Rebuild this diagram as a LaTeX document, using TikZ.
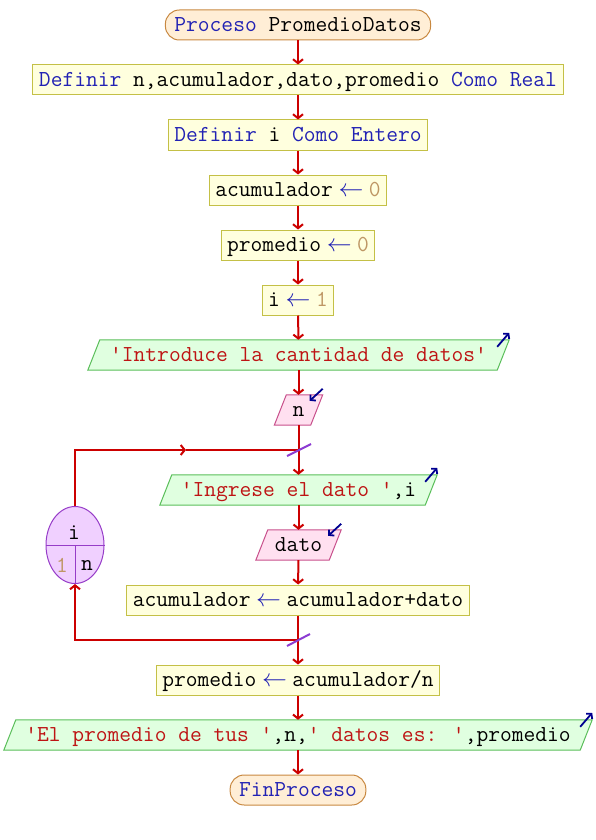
\documentclass[tikz,border=0pt]{standalone}
\usetikzlibrary{arrows.meta,shapes.geometric,calc}
\pgfdeclarelayer{bg}\pgfsetlayers{bg,main}
\definecolor{kw}{RGB}{34,34,180}
\definecolor{str}{RGB}{190,20,20}
\definecolor{num}{RGB}{190,150,100}
\definecolor{flow}{RGB}{204,0,0}
\definecolor{boxfill}{RGB}{255,255,222}
\definecolor{boxline}{RGB}{196,192,70}
\definecolor{outfill}{RGB}{224,255,224}
\definecolor{outline}{RGB}{90,190,90}
\definecolor{infill}{RGB}{255,224,240}
\definecolor{inline}{RGB}{200,80,140}
\definecolor{loopfill}{RGB}{240,208,255}
\definecolor{loopline}{RGB}{150,60,200}
\definecolor{termfill}{RGB}{255,238,214}
\definecolor{termline}{RGB}{200,136,64}
\definecolor{ioarrow}{RGB}{0,0,144}
\definecolor{slashcol}{RGB}{140,60,210}
\newcommand\asg{\makebox[36pt]{\color{kw}$\leftarrow$}}
\newcommand\q{\textquotesingle}
\newcommand\pgram[3]{%
 \begin{pgfonlayer}{bg}
 \filldraw[fill=#2,draw=#3,line width=1pt] ($(#1.south west)+(-6,0)$) -- ($(#1.north west)+(6,0)$) -- ($(#1.north east)+(6,0)$) -- ($(#1.south east)+(-6,0)$) -- cycle;
 \end{pgfonlayer}}
\newcommand\outmark[1]{\draw[ioarr] ($(#1.north east)+(-6,7)$) -- ($(#1.north east)+(6,-7)$);}
\newcommand\inmark[1]{\draw[ioarr] ($(#1.north east)+(6,-6)$) -- ($(#1.north east)+(-7,6)$);}
\tikzset{
 base/.style={font=\ttfamily\fontsize{22.86}{27}\selectfont, minimum height=30pt, inner xsep=6pt, inner ysep=0pt, text height=16pt, text depth=3pt},
 procbox/.style={base, draw=boxline, fill=boxfill, line width=1pt},
 term/.style={base, draw=termline, fill=termfill, line width=1pt, rounded corners=14pt, inner xsep=9pt},
 iobox/.style={base, inner xsep=0pt},
 conn/.style={draw=flow, line width=2pt, -{Straight Barb[length=4pt,width=10pt]}},
 plain/.style={draw=flow, line width=2pt},
 ioarr/.style={draw=ioarrow, line width=1.8pt, -{Straight Barb[length=3.5pt,width=8pt]}},
 slashmark/.style={draw=slashcol, line width=2pt},
 loopnode/.style={ellipse, draw=loopline, fill=loopfill, line width=1pt, minimum width=58pt, minimum height=77pt, inner sep=0pt},
 looptext/.style={font=\ttfamily\fontsize{22.86}{27}\selectfont, inner sep=0pt}
}
\begin{document}
\begin{tikzpicture}[x=1pt,y=-1pt]
\useasboundingbox (0,0) rectangle (596,840);
\node[term] (start) at (298,25) {{\color{kw}Proceso} PromedioDatos};
\node[procbox] (def1) at (298,80) {{\color{kw}Definir} n,acumulador,dato,promedio {\color{kw}Como Real}};
\node[procbox] (def2) at (298,135) {{\color{kw}Definir} i {\color{kw}Como Entero}};
\node[procbox] (a0) at (298,190) {acumulador\asg{\color{num}0}};
\node[procbox] (p0) at (298,245) {promedio\asg{\color{num}0}};
\node[procbox] (i1) at (298,300) {i\asg{\color{num}1}};
\node[iobox, minimum width=409pt] (out1) at (298.5,355) {\color{str}\q Introduce la cantidad de datos\q};
\node[iobox, minimum width=36pt] (inn) at (298.5,410) {n};
\node[iobox, minimum width=265pt] (out2) at (298.5,490) {{\color{str}\q Ingrese el dato \q},i};
\node[iobox, minimum width=73pt] (indato) at (298.5,545) {dato};
\node[procbox] (acum) at (298,600) {acumulador\asg{}acumulador+dato};
\node[procbox] (prom) at (298,680) {promedio\asg{}acumulador/n};
\node[iobox, minimum width=576pt] (out3) at (298,735) {{\color{str}\q El promedio de tus \q},n,{\color{str}\q{} datos es: \q},promedio};
\node[term] (fin) at (298,790) {{\color{kw}FinProceso}};

\pgram{out1}{outfill}{outline}
\pgram{out2}{outfill}{outline}
\pgram{out3}{outfill}{outline}
\pgram{inn}{infill}{inline}
\pgram{indato}{infill}{inline}
\outmark{out1}
\outmark{out2}
\outmark{out3}
\inmark{inn}
\inmark{indato}

% loop
\node[loopnode] (loop) at (75,545) {};
\draw[draw=loopline, line width=1pt] (loop.west) -- (loop.east);
\draw[draw=loopline, line width=1pt] (loop.center) -- (loop.south);
\node[looptext] (lvar) at (74,533) {i};
\node[looptext] (lfrom) at (62,565) {\color{num}1};
\node[looptext] (lto) at (87,565) {n};

\coordinate (lt) at (298,450);
\coordinate (lm) at (186,450);
\coordinate (lb) at (298,640);

\draw[conn] (start) -- (def1);
\draw[conn] (def1) -- (def2);
\draw[conn] (def2) -- (a0);
\draw[conn] (a0) -- (p0);
\draw[conn] (p0) -- (i1);
\draw[conn] (i1) -- (out1);
\draw[conn] (out1) -- (inn);
\draw[conn] (inn) -- (out2);
\draw[conn] (out2) -- (indato);
\draw[conn] (indato) -- (acum);
\draw[conn] (acum) -- (prom);
\draw[conn] (prom) -- (out3);
\draw[conn] (out3) -- (fin);
\draw[conn] (loop.north) |- (lm);
\draw[plain] (lm) -- (lt);
\draw[conn] (lb) -| (loop.south);
\draw[slashmark] ($(lt)+(-11,6)$) -- ($(lt)+(13,-6)$);
\draw[slashmark] ($(lb)+(-11,6)$) -- ($(lb)+(12,-6)$);
\end{tikzpicture}
\end{document}
